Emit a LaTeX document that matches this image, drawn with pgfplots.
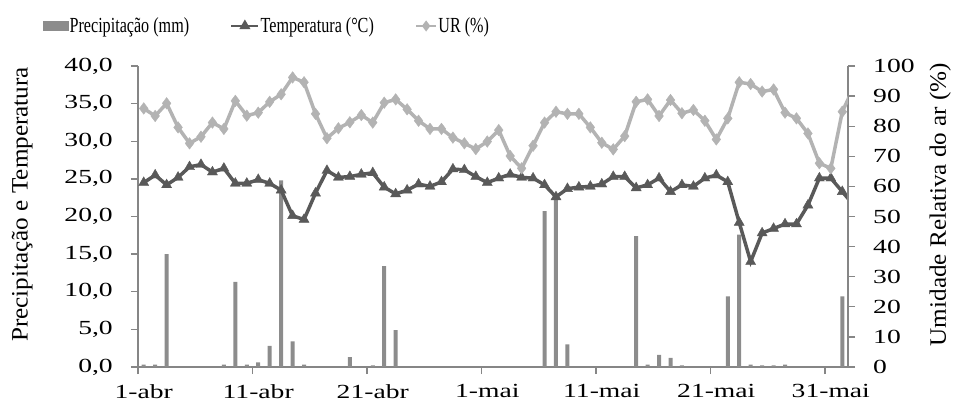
\documentclass[border=0pt]{standalone}
\usepackage{fontspec}
\setmainfont{Liberation Serif}
\newfontfamily\tickfont{Liberation Serif}[FakeStretch=1.38]
\newfontfamily\legfont{Liberation Serif}[FakeStretch=0.75]
\newfontfamily\labfont{Liberation Serif}[FakeStretch=1.07]
\usepackage{pgfplots}
\usepackage{pgfplotstable}
\pgfplotsset{compat=1.18}

\definecolor{barcol}{HTML}{8C8C8C}
\definecolor{tempcol}{HTML}{595959}
\definecolor{urcol}{HTML}{B3B3B3}
\definecolor{axcol}{HTML}{868686}

% precipitacao diaria (mm), dia 0 = 1-abr
\pgfplotstableread{
dia chuva
0 0.3
1 0.3
2 15.0
7 0.3
8 11.3
9 0.3
10 0.6
11 2.8
12 24.8
13 3.4
14 0.3
18 1.3
20 0.2
21 13.4
22 4.9
35 20.7
36 22.5
37 3.0
43 17.4
44 0.3
45 1.6
46 1.2
47 0.2
51 9.4
52 17.6
53 0.3
54 0.2
55 0.2
56 0.3
61 9.4
}\chuva

% temperatura (C) e UR (%)
\pgfplotstableread{
dia temp ur
0 24.5 85.9
1 25.5 83.4
2 24.2 87.6
3 25.2 79.6
4 26.6 74.3
5 26.9 76.5
6 25.9 81.2
7 26.4 79.1
8 24.4 88.4
9 24.4 83.5
10 24.9 84.5
11 24.4 88.1
12 23.5 90.6
13 20.1 96.2
14 19.6 94.6
15 23.1 84.1
16 26.1 76.0
17 25.2 79.3
18 25.3 81.3
19 25.6 83.7
20 25.8 81.2
21 23.9 87.8
22 23.0 88.9
23 23.5 85.6
24 24.3 81.8
25 24.0 79.1
26 24.6 79.1
27 26.3 76.2
28 26.2 74.3
29 25.3 72.4
30 24.5 74.9
31 25.1 78.7
32 25.6 70.1
33 25.2 66.0
34 25.1 73.5
35 24.2 81.2
36 22.6 84.8
37 23.7 84.1
38 23.9 84.1
39 24.0 79.6
40 24.3 74.5
41 25.3 72.3
42 25.3 76.7
43 23.8 88.1
44 24.2 88.9
45 25.1 83.4
46 23.3 88.7
47 24.2 84.3
48 24.0 85.4
49 25.1 81.8
50 25.5 75.6
51 24.6 82.6
52 19.2 94.6
53 14.0 94.0
54 17.8 91.5
55 18.4 92.2
56 19.0 84.5
57 19.0 82.6
58 21.5 77.6
59 25.1 67.7
60 25.1 66.0
61 23.3 84.8
62 21.5 93.0
}\clima

\pgfplotsset{
  base/.style={
    at={(138pt,34pt)}, anchor=south west,
    scale only axis, width=710pt, height=301pt,
    xmin=-0.5, xmax=61.5,
    axis line style={axcol, line width=1.3pt},
    tick style={axcol, line width=1.3pt},
    tick align=outside, major tick length=7pt,
    ticklabel style={font=\tickfont\fontsize{20}{24}\selectfont, inner sep=0pt},
    /pgf/number format/assume math mode=true,
    label style={font=\labfont\fontsize{23.5}{28}\selectfont},
  },
}

\begin{document}
\begin{tikzpicture}
\path[use as bounding box] (0,0) rectangle (957pt,401pt);

\begin{axis}[base,
  ymin=0, ymax=40,
  axis x line*=bottom, axis y line*=left,
  xtick={-0.5,9.5,...,59.5},
  xticklabels={1-abr,11-abr,21-abr,1-mai,11-mai,21-mai,31-mai},
  xticklabel style={xshift=5.7pt, yshift=-10pt},
  ytick={0,5,...,40},
  yticklabel style={xshift=-18pt,
    /pgf/number format/fixed, /pgf/number format/fixed zerofill,
    /pgf/number format/precision=1, /pgf/number format/use comma},
  ylabel={Precipitação e Temperatura},
  ylabel style={at={(axis description cs:-0.163,0.54)}, anchor=center},
]
\addplot[ybar, bar width=4pt, fill=barcol, draw=none] table[x=dia, y=chuva] {\chuva};
\addplot[tempcol, line width=3.5pt, no markers] table[x=dia, y=temp] {\clima};
\addplot[only marks, mark=triangle*, mark size=5.8pt, tempcol,
  restrict x to domain=0:61] table[x=dia, y=temp] {\clima};
\end{axis}

\begin{axis}[base,
  ymin=0, ymax=100,
  axis x line=none, axis y line*=right,
  ytick={0,10,...,100},
  yticklabel style={xshift=18pt},
  ylabel={Umidade Relativa do ar (\%)},
  ylabel style={at={(axis description cs:1.13,0.54)}, anchor=center},
  legend columns=3,
  legend style={at={(-0.1338,1.133)}, anchor=west, draw=none, fill=none,
    inner sep=0pt, font=\legfont\fontsize{21.5}{25}\selectfont,
    nodes={inner sep=1pt},
    /tikz/every even column/.append style={column sep=40pt}},
]
\addlegendimage{legend image code/.code={\fill[barcol] (0pt,-4.5pt) rectangle (25pt,4.5pt);}}
\addlegendentry{Precipitação (mm)}
\addlegendimage{legend image code/.code={\draw[tempcol, line width=2.5pt, mark=triangle*, mark size=4pt, mark repeat=2, mark phase=2] plot coordinates {(0pt,0pt) (13.5pt,0pt) (27pt,0pt)};}}
\addlegendentry{Temperatura (°C)}
\addlegendimage{legend image code/.code={\draw[urcol, line width=2.5pt, mark=diamond*, mark size=3.5pt, mark repeat=2, mark phase=2] plot coordinates {(0pt,0pt) (10pt,0pt) (20pt,0pt)};}}
\addlegendentry{UR (\%)}
\addplot[urcol, line width=3.5pt, no markers, forget plot] table[x=dia, y=ur] {\clima};
\addplot[only marks, mark=diamond*, mark size=5.8pt, urcol, forget plot,
  restrict x to domain=0:61] table[x=dia, y=ur] {\clima};
\end{axis}
\end{tikzpicture}
\end{document}
